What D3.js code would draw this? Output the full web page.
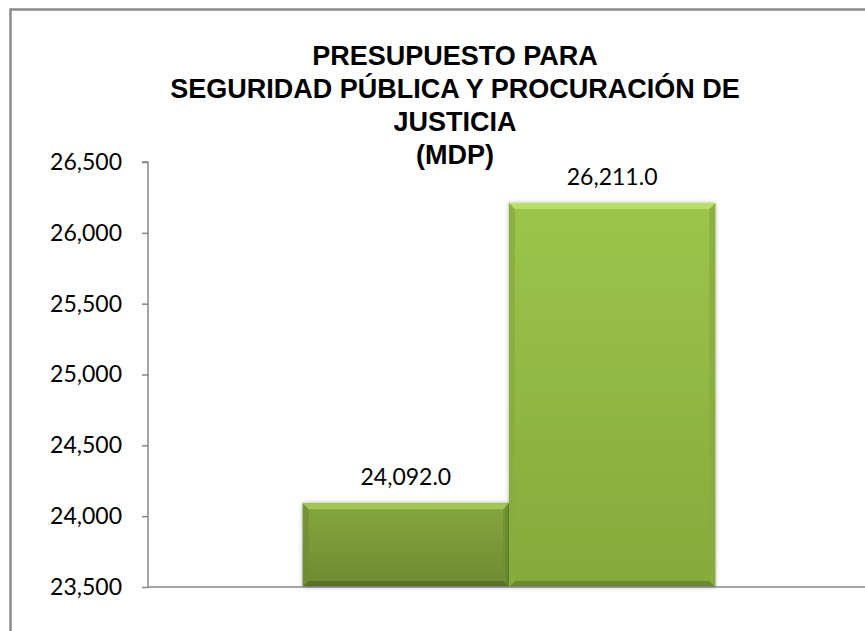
<!DOCTYPE html>
<html>
<head>
<meta charset="utf-8">
<script src="https://cdn.jsdelivr.net/npm/d3@7"></script>
<style>
	body { margin: 0; background: #fff; }
	svg { display: block; }
</style>
</head>
<body>
<div id="grafica"></div>
<script>
// datos de la grafica
var titulo = ["PRESUPUESTO PARA", "SEGURIDAD PÚBLICA Y PROCURACIÓN DE", "JUSTICIA", "(MDP)"];
var categorias = ["Presupuesto"];
var series = ["Anterior", "Actual"];
var valores = [24092.0, 26211.0];
var ticksY = [23500, 24000, 24500, 25000, 25500, 26000, 26500];
var dominioY = [23500, 26500];

// colores de cada barra: cuerpo arriba, cuerpo abajo, bisel alto, bisel bajo, lados
var colores = [
	{arriba: '#84a63e', abajo: '#6d8c31', alto: '#a3c659', bajo: '#58722a', lado: '#6f8f33'},
	{arriba: '#9cc54b', abajo: '#84aa3c', alto: '#b9dd6a', bajo: '#6a8a2e', lado: '#87ad3f'}
];

(function(){
	var W = 865, H = 631;
	var m = {t: 162, r: -5, b: 44, l: 148};

	var svg = d3.select('#grafica').append('svg')
		.attr('width', W)
		.attr('height', H);

	var defs = svg.append('defs');
	var sombra = defs.append('filter').attr('id', 'sombra')
		.attr('x', '-10%').attr('y', '-10%').attr('width', '120%').attr('height', '120%');
	sombra.append('feDropShadow')
		.attr('dx', 0).attr('dy', 0)
		.attr('stdDeviation', 2)
		.attr('flood-color', '#000')
		.attr('flood-opacity', 0.35);

	colores.forEach(function(c, i) {
		var gr = defs.append('linearGradient').attr('id', 'cuerpo' + i)
			.attr('x1', 0).attr('y1', 0).attr('x2', 0).attr('y2', 1);
		gr.append('stop').attr('offset', '0%').attr('stop-color', c.arriba);
		gr.append('stop').attr('offset', '100%').attr('stop-color', c.abajo);
	});

	// marco del area del grafico
	svg.append('path')
		.attr('d', 'M10.5,' + (H + 5) + 'V9.5H' + (W + 5))
		.attr('fill', 'none')
		.attr('stroke', '#8a8a8a')
		.attr('stroke-width', 2.5);

	var y = d3.scaleLinear()
		.domain(dominioY)
		.range([H - m.b, m.t]);

	var x0 = d3.scaleBand()
		.domain(categorias)
		.range([m.l, W - m.r]);

	var x1 = d3.scaleBand()
		.domain(series)
		.range([0, x0.bandwidth()])
		.paddingInner(0)
		.paddingOuter(0.75);

	// titulo
	var t = svg.append('text')
		.attr('text-anchor', 'middle')
		.attr('font-family', '"Liberation Sans", Arial, sans-serif')
		.attr('font-weight', 'bold')
		.attr('font-size', 27)
		.attr('fill', '#000');
	titulo.forEach(function(linea, i) {
		t.append('tspan')
			.attr('x', 455)
			.attr('y', 65 + i * 33)
			.text(linea);
	});

	// eje Y
	var ejeY = svg.append('g')
		.attr('transform', 'translate(' + m.l + ',0)')
		.call(d3.axisLeft(y)
			.tickValues(ticksY)
			.tickSize(6)
			.tickPadding(20)
			.tickFormat(d3.format(',')));
	ejeY.select('.domain').attr('stroke', '#868686').attr('stroke-width', 1.5)
		.attr('d', 'M-6,' + y(dominioY[1]) + 'H0V' + y(dominioY[0]));
	ejeY.selectAll('.tick line').attr('stroke', '#868686').attr('stroke-width', 1.5);
	ejeY.selectAll('.tick text')
		.attr('font-family', 'Lato, "Open Sans", sans-serif')
		.attr('font-size', 23)
		.attr('fill', '#000');

	// barras con bisel
	var b = 6;
	var grupo = svg.selectAll('.categoria').data(categorias)
		.enter().append('g')
		.attr('class', 'categoria')
		.attr('transform', function(d) { return 'translate(' + x0(d) + ',0)'; });

	var barras = grupo.selectAll('.barra')
		.data(series.map(function(s, i) { return {serie: s, valor: valores[i], i: i}; }))
		.enter().append('g')
		.attr('class', 'barra');

	barras.each(function(d) {
		var g = d3.select(this);
		var bx = x1(d.serie), bw = x1.bandwidth(),
			by = y(d.valor), bh = y(dominioY[0]) - y(d.valor),
			c = colores[d.i];
		g.append('rect')
			.attr('x', bx).attr('y', by).attr('width', bw).attr('height', bh)
			.attr('fill', 'url(#cuerpo' + d.i + ')')
			.attr('filter', 'url(#sombra)');
		var pts = function(arr) { return arr.map(function(p) { return p.join(','); }).join(' '); };
		g.append('polygon').attr('fill', c.lado).attr('opacity', 0.8)
			.attr('points', pts([[bx, by], [bx + b, by + b], [bx + b, by + bh - b], [bx, by + bh]]));
		g.append('polygon').attr('fill', c.lado).attr('opacity', 0.8)
			.attr('points', pts([[bx + bw, by], [bx + bw - b, by + b], [bx + bw - b, by + bh - b], [bx + bw, by + bh]]));
		g.append('polygon').attr('fill', c.alto)
			.attr('points', pts([[bx, by], [bx + bw, by], [bx + bw - b, by + b], [bx + b, by + b]]));
		g.append('polygon').attr('fill', c.bajo)
			.attr('points', pts([[bx, by + bh], [bx + bw, by + bh], [bx + bw - b, by + bh - b], [bx + b, by + bh - b]]));

		// etiqueta de datos
		g.append('text')
			.attr('x', bx + bw / 2)
			.attr('y', by - 18)
			.attr('text-anchor', 'middle')
			.attr('font-family', 'Lato, "Open Sans", sans-serif')
			.attr('font-size', 23)
			.attr('fill', '#000')
			.text(d3.format(',.1f')(d.valor));
	});

	// eje X (solo la linea)
	var ejeX = svg.append('g')
		.attr('transform', 'translate(0,' + y(dominioY[0]) + ')')
		.call(d3.axisBottom(x0).tickSize(0).tickFormat(''));
	ejeX.select('.domain').attr('stroke', '#868686').attr('stroke-width', 1.5)
		.attr('d', 'M' + m.l + ',0H' + W);
})();
</script>
</body>
</html>
